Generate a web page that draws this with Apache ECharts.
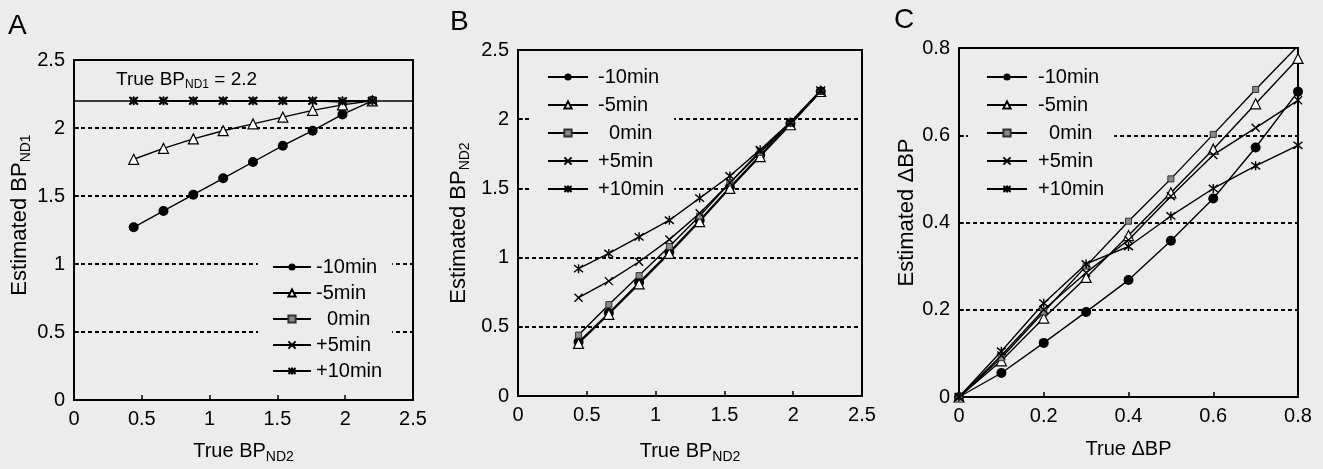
<!DOCTYPE html>
<html lang="en">
  <head>
    <meta charset="UTF-8" />
    <title>BP estimates</title>
    <script src="https://cdn.jsdelivr.net/npm/echarts@6/dist/echarts.min.js"></script>
    <style>
      html, body { margin: 0; padding: 0; background: #ececec; }
      #chart { width: 1323px; height: 469px; }
    </style>
  </head>
  <body>
    <div id="chart"></div>
    <script>
      // data
      var names = ["-10min", "-5min", "0min", "+5min", "+10min"];

      // panel A: true BPND2 vs estimated BPND1 (true BPND1 = 2.2)
      var xA = [0.44, 0.66, 0.88, 1.1, 1.32, 1.54, 1.76, 1.98, 2.2];
      var aM10 = [1.27, 1.39, 1.51, 1.63, 1.75, 1.87, 1.98, 2.1, 2.2];
      var aM5 = [1.77, 1.85, 1.92, 1.98, 2.03, 2.08, 2.13, 2.17, 2.2];
      var aZ0 = [2.2, 2.2, 2.2, 2.2, 2.2, 2.2, 2.2, 2.2, 2.2];
      var aP5 = [2.2, 2.2, 2.2, 2.2, 2.2, 2.2, 2.2, 2.19, 2.2];
      var aP10 = [2.2, 2.2, 2.2, 2.2, 2.2, 2.2, 2.2, 2.2, 2.2];
      var trueBP1 = 2.2;

      // panel B: true BPND2 vs estimated BPND2
      var xB = [0.44, 0.66, 0.88, 1.1, 1.32, 1.54, 1.76, 1.98, 2.2];
      var bM10 = [0.39, 0.6, 0.82, 1.04, 1.27, 1.51, 1.74, 1.97, 2.2];
      var bM5 = [0.38, 0.59, 0.81, 1.03, 1.26, 1.5, 1.73, 1.96, 2.2];
      var bZ0 = [0.44, 0.66, 0.87, 1.08, 1.3, 1.54, 1.76, 1.97, 2.2];
      var bP5 = [0.71, 0.83, 0.97, 1.13, 1.32, 1.54, 1.77, 1.97, 2.2];
      var bP10 = [0.92, 1.03, 1.15, 1.27, 1.43, 1.59, 1.78, 1.98, 2.21];

      // panel C: true dBP vs estimated dBP
      var xC = [0, 0.1, 0.2, 0.3, 0.4, 0.5, 0.6, 0.7, 0.8];
      var cM10 = [0, 0.055, 0.124, 0.195, 0.268, 0.358, 0.455, 0.572, 0.7];
      var cM5 = [0, 0.083, 0.181, 0.274, 0.37, 0.468, 0.568, 0.672, 0.776];
      var cZ0 = [0, 0.09, 0.195, 0.3, 0.403, 0.5, 0.602, 0.705, 0.805];
      var cP5 = [0, 0.095, 0.2, 0.285, 0.36, 0.46, 0.555, 0.617, 0.68];
      var cP10 = [0, 0.105, 0.215, 0.305, 0.345, 0.415, 0.478, 0.53, 0.577];

      var bg = "#ececec";
      var font = "'Liberation Sans', Arial, Helvetica, sans-serif";

      var marks = {
        "-10min": { symbol: "circle", size: 10, item: { color: "#000" } },
        "-5min": { symbol: "triangle", size: 10, item: { color: "#fff", borderColor: "#000", borderWidth: 1.2 } },
        "0min": { symbol: "rect", size: 6, item: { color: "#8a8a8a", borderColor: "#333", borderWidth: 1 } },
        "+5min": { symbol: "path://M0,0L10,10M10,0L0,10", size: 8, item: { color: "rgba(0,0,0,0)", borderColor: "#000", borderWidth: 1.4 } },
        "+10min": { symbol: "path://M1,1L9,9M9,1L1,9M5,0L5,10", size: 9, item: { color: "rgba(0,0,0,0)", borderColor: "#000", borderWidth: 1.4 } }
      };

      function pairs(xs, ys) {
        return xs.map(function (x, i) { return [x, ys[i]]; });
      }

      function line(name, idx, xs, ys) {
        var m = marks[name];
        return {
          name: name,
          type: "line",
          xAxisIndex: idx,
          yAxisIndex: idx,
          data: pairs(xs, ys),
          symbol: m.symbol,
          symbolSize: m.size,
          showAllSymbol: true,
          lineStyle: { color: "#000", width: 1.4 },
          itemStyle: m.item,
          z: 3
        };
      }

      var sub = { fontSize: 14, padding: [12, 0, 0, 0], fontFamily: font, color: "#000" };
      var main = { fontSize: 20, fontFamily: font, color: "#000" };
      var mainY = { fontSize: 22, fontFamily: font, color: "#000" };

      function xAx(idx, max, interval, title, gap) {
        return {
          gridIndex: idx, type: "value", min: 0, max: max, interval: interval,
          name: title, nameLocation: "middle", nameGap: gap,
          nameTextStyle: { rich: { a: main, s: sub } },
          axisLine: { show: false },
          axisTick: { show: true, inside: true, length: 5, lineStyle: { color: "#000", width: 1.5 } },
          axisLabel: { color: "#000", fontSize: 20, fontFamily: font, margin: 9 },
          splitLine: { show: false }
        };
      }
      function yAx(idx, max, interval, title, gap, pad) {
        return {
          gridIndex: idx, type: "value", min: 0, max: max, interval: interval,
          name: title, nameLocation: "middle", nameGap: gap,
          nameTextStyle: { padding: pad, rich: { a: mainY, s: sub } },
          axisLine: { show: false },
          axisTick: { show: true, inside: true, length: 5, lineStyle: { color: "#000", width: 1.5 } },
          axisLabel: { color: "#000", fontSize: 20, fontFamily: font, margin: 9 },
          splitLine: { show: true, lineStyle: { color: "#000", type: [4, 3], width: 1.8 } }
        };
      }
      function leg(left, top, gap, width, padding, textPad) {
        return {
          orient: "vertical", left: left, top: top, itemGap: gap,
          itemWidth: width, itemHeight: 9, padding: padding,
          backgroundColor: bg,
          data: names,
          formatter: function (n) { return n === "0min" ? "  0min" : n; },
          textStyle: { fontSize: 20, fontFamily: font, color: "#000", lineHeight: 20, padding: textPad }
        };
      }

      var series = [];
      [[xA, [aM10, aM5, aZ0, aP5, aP10]], [xB, [bM10, bM5, bZ0, bP5, bP10]], [xC, [cM10, cM5, cZ0, cP5, cP10]]]
        .forEach(function (p, idx) {
          names.forEach(function (n, k) { series.push(line(n, idx, p[0], p[1][k])); });
        });

      // solid reference line at true BPND1 in panel A
      series[4].markLine = {
        silent: true, symbol: ["none", "none"], label: { show: false },
        lineStyle: { color: "#000", type: "solid", width: 1.5 },
        data: [{ yAxis: trueBP1 }]
      };

      var frame = { show: true, borderColor: "#000", borderWidth: 2, backgroundColor: "transparent" };

      var option = {
        animation: false,
        backgroundColor: bg,
        grid: [
          Object.assign({ left: 74, top: 60, width: 339, height: 341 }, frame),
          Object.assign({ left: 518, top: 50, width: 344, height: 349 }, frame),
          Object.assign({ left: 959, top: 48, width: 339, height: 349 }, frame)
        ],
        xAxis: [
          xAx(0, 2.5, 0.5, "{a|True BP}{s|ND2}", 38),
          xAx(1, 2.5, 0.5, "{a|True BP}{s|ND2}", 42),
          xAx(2, 0.8, 0.2, "{a|True \u0394BP}", 42)
        ],
        yAxis: [
          yAx(0, 2.5, 0.5, "{a|Estimated BP}{s|ND1}", 40, [0, 0, 0, 30]),
          yAx(1, 2.5, 0.5, "{a|Estimated BP}{s|ND2}", 46, [0, 0, 0, 0]),
          yAx(2, 0.8, 0.2, "{a|Estimated \u0394BP}", 40, [0, 0, 0, 20])
        ],
        legend: [
          leg(258, 249, 6, 38, [8, 10, 8, 14], [0, 0, 0, 0]),
          leg(530, 59, 8, 40, [8, 10, 8, 17], [0, 0, 0, 5]),
          leg(968, 59, 8, 40, [8, 10, 8, 18], [0, 0, 0, 6])
        ],
        graphic: [
          { type: "text", left: 8, top: 12, style: { text: "A", fontSize: 28, fontFamily: font, fill: "#000" } },
          { type: "text", left: 450, top: 8, style: { text: "B", fontSize: 28, fontFamily: font, fill: "#000" } },
          { type: "text", left: 894, top: 6, style: { text: "C", fontSize: 28, fontFamily: font, fill: "#000" } },
          {
            type: "text", left: 116, top: 70, z: 10,
            style: {
              text: "{a|True BP}{s|ND1}{a| = 2.2}",
              rich: {
                a: { fontSize: 19, fontFamily: font, fill: "#000" },
                s: { fontSize: 12, fontFamily: font, fill: "#000", padding: [11, 0, 0, 0] }
              }
            }
          }
        ],
        series: series
      };

      var chart = echarts.init(document.getElementById("chart"));
      chart.setOption(option);
    </script>
  </body>
</html>
